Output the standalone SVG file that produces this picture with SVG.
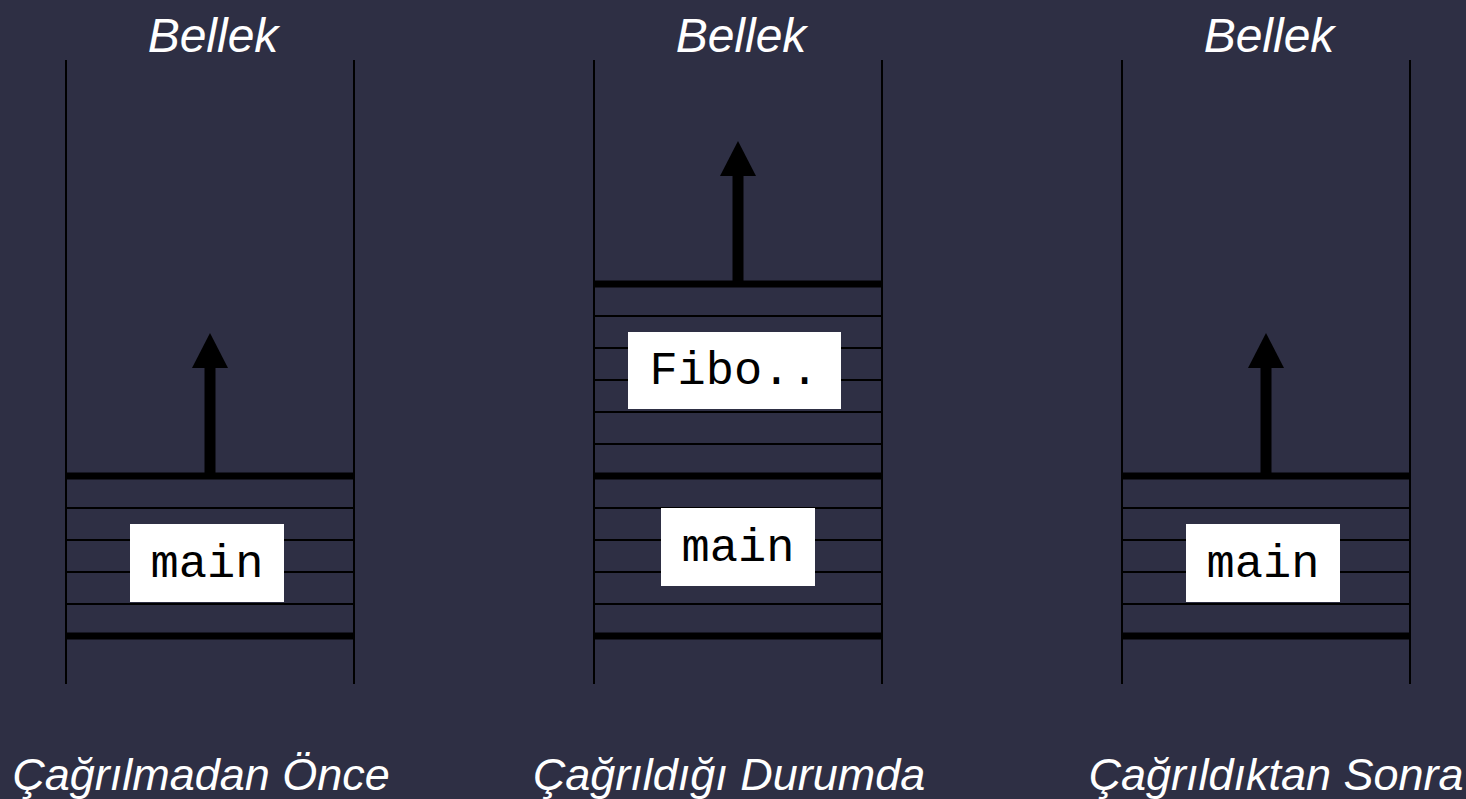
<svg xmlns="http://www.w3.org/2000/svg" width="1466" height="799" viewBox="0 0 1466 799">
<style>
.bg{fill:#2e2f44}
.v{stroke:#000;stroke-width:2}
.thin{stroke:#000;stroke-width:2}
.thick{stroke:#000;stroke-width:7}
.shaft{stroke:#000;stroke-width:11}
.head{fill:#000}
.box{fill:#fff}
.code{font-family:"Liberation Mono","Courier New",monospace;font-size:47px;fill:#000;text-anchor:middle}
.title{font-family:"Liberation Sans",Arial,sans-serif;font-style:italic;font-size:48px;fill:#fff;text-anchor:middle}
.cap{font-family:"Liberation Sans",Arial,sans-serif;font-style:italic;font-size:45px;fill:#fff;text-anchor:middle}
</style>
<rect class="bg" x="0" y="0" width="1466" height="799"/>
<g id="col1">
<text class="title" x="213" y="52">Bellek</text>
<line class="v" x1="66" y1="60" x2="66" y2="684"/>
<line class="v" x1="354" y1="60" x2="354" y2="684"/>
<line class="thin" x1="66" y1="508" x2="354" y2="508"/>
<line class="thin" x1="66" y1="540" x2="354" y2="540"/>
<line class="thin" x1="66" y1="572" x2="354" y2="572"/>
<line class="thin" x1="66" y1="604" x2="354" y2="604"/>
<line class="thick" x1="66" y1="476" x2="354" y2="476"/>
<line class="thick" x1="66" y1="636" x2="354" y2="636"/>
<rect class="box" x="130" y="524" width="154" height="78"/>
<text class="code" x="207" y="577">main</text>
<text class="cap" x="201" y="790">Çağrılmadan Önce</text>
</g>
<g id="col2">
<text class="title" x="741" y="52">Bellek</text>
<line class="v" x1="594" y1="60" x2="594" y2="684"/>
<line class="v" x1="882" y1="60" x2="882" y2="684"/>
<line class="thin" x1="594" y1="316" x2="882" y2="316"/>
<line class="thin" x1="594" y1="348" x2="882" y2="348"/>
<line class="thin" x1="594" y1="380" x2="882" y2="380"/>
<line class="thin" x1="594" y1="412" x2="882" y2="412"/>
<line class="thin" x1="594" y1="444" x2="882" y2="444"/>
<line class="thin" x1="594" y1="508" x2="882" y2="508"/>
<line class="thin" x1="594" y1="540" x2="882" y2="540"/>
<line class="thin" x1="594" y1="572" x2="882" y2="572"/>
<line class="thin" x1="594" y1="604" x2="882" y2="604"/>
<line class="thick" x1="594" y1="284" x2="882" y2="284"/>
<line class="thick" x1="594" y1="476" x2="882" y2="476"/>
<line class="thick" x1="594" y1="636" x2="882" y2="636"/>
<rect class="box" x="628" y="332" width="213" height="77"/>
<text class="code" x="734" y="384">Fibo..</text>
<rect class="box" x="661" y="508" width="154" height="78"/>
<text class="code" x="738" y="561">main</text>
<text class="cap" x="729" y="790">Çağrıldığı Durumda</text>
</g>
<g id="col3">
<text class="title" x="1269" y="52">Bellek</text>
<line class="v" x1="1122" y1="60" x2="1122" y2="684"/>
<line class="v" x1="1410" y1="60" x2="1410" y2="684"/>
<line class="thin" x1="1122" y1="508" x2="1410" y2="508"/>
<line class="thin" x1="1122" y1="540" x2="1410" y2="540"/>
<line class="thin" x1="1122" y1="572" x2="1410" y2="572"/>
<line class="thin" x1="1122" y1="604" x2="1410" y2="604"/>
<line class="thick" x1="1122" y1="476" x2="1410" y2="476"/>
<line class="thick" x1="1122" y1="636" x2="1410" y2="636"/>
<rect class="box" x="1186" y="524" width="154" height="78"/>
<text class="code" x="1263" y="577">main</text>
<text class="cap" x="1276" y="790">Çağrıldıktan Sonra</text>
</g>
<g id="connectors">
<line class="shaft" x1="210" y1="476" x2="210" y2="366"/>
<polygon class="head" points="210,333 228,368 192,368"/>
<line class="shaft" x1="738" y1="284" x2="738" y2="174"/>
<polygon class="head" points="738,141 756,176 720,176"/>
<line class="shaft" x1="1266" y1="476" x2="1266" y2="366"/>
<polygon class="head" points="1266,333 1284,368 1248,368"/>
</g>
</svg>
